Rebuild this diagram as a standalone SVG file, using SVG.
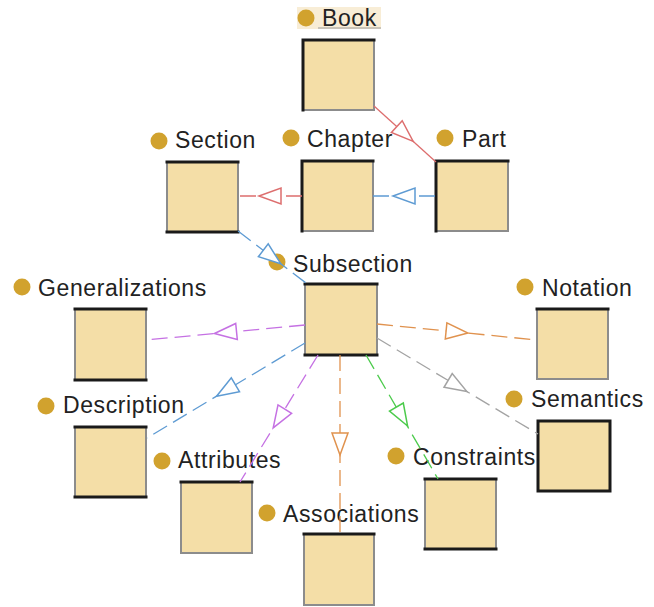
<svg xmlns="http://www.w3.org/2000/svg" width="654" height="607" viewBox="0 0 654 607">
<style>
.box{fill:#F4DEA7;stroke:#8C8C8C;stroke-width:2}
.edge{fill:none;stroke:#1A1A1A;stroke-width:3;stroke-linecap:square}
.dot{fill:#D1A22E}
.lbl{font-family:"Liberation Sans",Arial,sans-serif;font-size:23px;fill:#222;letter-spacing:0.6px}
.c{fill:none;stroke-width:1.3}
.d{stroke-dasharray:16,7}
.t{fill:#fff;stroke-width:1.5}
.red{stroke:#DD6E6E}
.blue{stroke:#5E9BD3}
.purple{stroke:#C571E3}
.orange{stroke:#E0924E}
.green{stroke:#4CCB4C}
.gray{stroke:#A3A3A3}
</style>
<rect width="654" height="607" fill="#fff"/>
<g id="Book">
<rect x="297" y="7" width="84" height="22" fill="#F8EDD6"/>
<line x1="318" y1="28" x2="381" y2="28" stroke="#9A9A9A" stroke-width="1"/>
<circle class="dot" cx="306" cy="18" r="8.5"/>
<text class="lbl" x="322" y="26">Book</text>
<rect class="box" x="303" y="40" width="71" height="70"/>
<path class="edge" d="M303,110 V40 H374"/>
</g>
<g id="Section">
<circle class="dot" cx="159" cy="141" r="8.5"/>
<text class="lbl" x="175" y="148">Section</text>
<rect class="box" x="167" y="162" width="71" height="70"/>
<path class="edge" d="M167,162 H238 M167,232 H238"/>
</g>
<g id="Chapter">
<circle class="dot" cx="291" cy="138" r="8.5"/>
<text class="lbl" x="307" y="147">Chapter</text>
<rect class="box" x="302" y="161" width="71" height="70"/>
<path class="edge" d="M302,231 V161 H373"/>
</g>
<g id="Part">
<circle class="dot" cx="445" cy="138" r="8.5"/>
<text class="lbl" x="462" y="147">Part</text>
<rect class="box" x="436" y="161" width="72" height="70"/>
<path class="edge" d="M436,231 V161 H508"/>
</g>
<g id="Subsection">
<circle class="dot" cx="277" cy="262" r="8.5"/>
<text class="lbl" x="293" y="272">Subsection</text>
<rect class="box" x="305" y="284" width="72" height="71"/>
<path class="edge" d="M305,284 H377 M305,355 H377"/>
</g>
<g id="Generalizations">
<circle class="dot" cx="22" cy="287" r="8.5"/>
<text class="lbl" x="38" y="296">Generalizations</text>
<rect class="box" x="75" y="309" width="71" height="71"/>
<path class="edge" d="M75,309 H146 M75,380 H146"/>
</g>
<g id="Notation">
<circle class="dot" cx="525" cy="287" r="8.5"/>
<text class="lbl" x="542" y="296">Notation</text>
<rect class="box" x="537" y="309" width="71" height="70"/>
<path class="edge" d="M537,309 H608"/>
</g>
<g id="Description">
<circle class="dot" cx="46" cy="406" r="8.5"/>
<text class="lbl" x="63" y="413">Description</text>
<rect class="box" x="75" y="427" width="71" height="70"/>
<path class="edge" d="M75,427 H146 M75,497 H146"/>
</g>
<g id="Semantics">
<circle class="dot" cx="514" cy="399" r="8.5"/>
<text class="lbl" x="531" y="407">Semantics</text>
<rect class="box" x="538" y="421" width="72" height="70"/>
<path class="edge" d="M538,421 H610 V491 H538 Z"/>
</g>
<g id="Attributes">
<circle class="dot" cx="162" cy="461" r="8.5"/>
<text class="lbl" x="178" y="468">Attributes</text>
<rect class="box" x="181" y="482" width="71" height="71"/>
<path class="edge" d="M181,482 H252"/>
</g>
<g id="Constraints">
<circle class="dot" cx="396" cy="456" r="8.5"/>
<text class="lbl" x="413" y="465">Constraints</text>
<rect class="box" x="425" y="479" width="71" height="70"/>
<path class="edge" d="M425,479 H496 M425,549 H496"/>
</g>
<g id="Associations">
<circle class="dot" cx="267" cy="513" r="8.5"/>
<text class="lbl" x="283" y="522">Associations</text>
<rect class="box" x="304" y="534" width="70" height="71"/>
<path class="edge" d="M304,534 H374"/>
</g>
<g id="connectors">
<line class="c red" x1="374" y1="106" x2="436" y2="162"/>
<polygon class="t red" points="413.2,141.4 391.4,132.5 402.2,120.7"/>
<line class="c blue d" x1="435" y1="196" x2="373" y2="196"/>
<polygon class="t blue" points="393,196 415,188 415,204"/>
<line class="c red d" x1="302" y1="196" x2="238" y2="196"/>
<polygon class="t red" points="259,196 281,188 281,204"/>
<line class="c blue d" x1="238" y1="231" x2="306" y2="283"/>
<polygon class="t blue" points="280.7,263.7 258.4,256.7 268.2,243.9"/>
<line class="c purple d" x1="305" y1="325" x2="146" y2="340"/>
<polygon class="t purple" points="214.5,333.5 235.7,323.5 237.3,339.5"/>
<line class="c orange d" x1="377" y1="324" x2="537" y2="340"/>
<polygon class="t orange" points="467.9,333.1 445.3,338.9 446.9,322.9"/>
<line class="c blue d" x1="305" y1="343" x2="147" y2="438"/>
<polygon class="t blue" points="216.6,396.2 239.5,391.7 231.3,377.9"/>
<line class="c purple d" x1="318" y1="355" x2="240" y2="482"/>
<polygon class="t purple" points="273.2,427.9 291.6,413.3 278.0,404.9"/>
<line class="c orange d" x1="340" y1="355" x2="340" y2="534"/>
<polygon class="t orange" points="340,455 332,433 348,433"/>
<line class="c green d" x1="366" y1="355" x2="438" y2="479"/>
<polygon class="t green" points="407.6,426.0 389.5,411.0 403.3,403.0"/>
<line class="c gray d" x1="377" y1="338" x2="538" y2="434"/>
<polygon class="t gray" points="466.9,391.6 444.0,387.3 452.2,373.5"/>
</g>
</svg>
